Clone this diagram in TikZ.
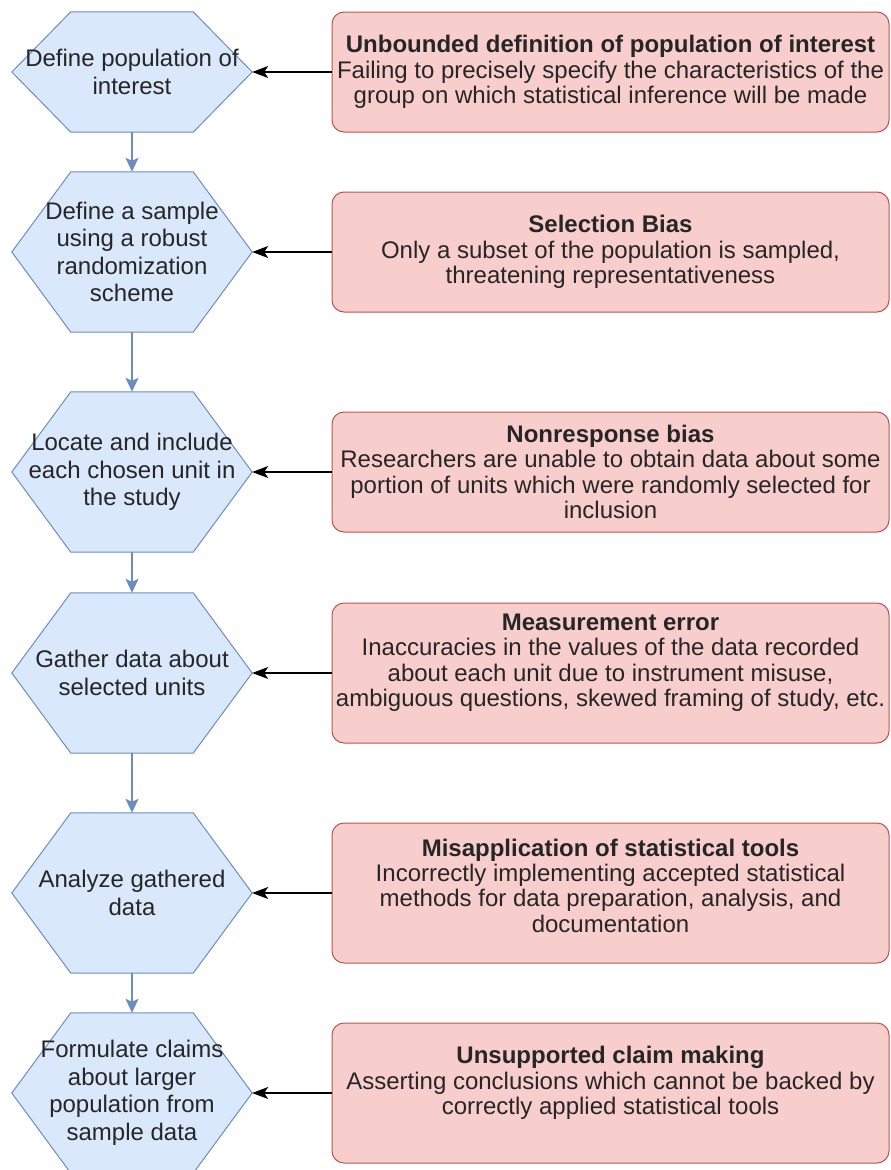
\documentclass[tikz,border=0pt]{standalone}
\usepackage{fontspec}
\setmainfont{Liberation Sans}
\usetikzlibrary{arrows.meta,backgrounds}

\definecolor{stagefill}{HTML}{DAE8FC}
\definecolor{stageline}{HTML}{6C8EBF}
\definecolor{riskfill}{HTML}{F8CECC}
\definecolor{riskline}{HTML}{B85450}

\tikzset{
    stage/.style={minimum width=240pt, minimum height=160pt, inner sep=0pt, align=center,
        font=\fontsize{24}{27.5}\selectfont, text=black!85},
    risk/.style={rectangle, rounded corners=12pt, draw=riskline, fill=riskfill, line width=1pt,
        minimum width=557pt, minimum height=120pt, inner sep=0pt, align=center,
        font=\fontsize{24}{25.3}\selectfont, text=black!85},
    flow/.style={stageline, line width=1.5pt, -{Stealth[length=14pt,width=13pt,inset=3pt]}},
    cause/.style={black, line width=1.2pt, -{Stealth[length=16pt,width=12pt,inset=4pt]}},
}

\begin{document}
\begin{tikzpicture}[x=1pt, y=-1pt]
        \useasboundingbox (0,0) rectangle (891,1170);

        \node[stage, minimum height=120pt] (s1) at (132, 72) {Define population of\\interest};
        \node[stage] (s2) at (132, 252) {Define a sample\\using a robust\\randomization\\scheme};
        \node[stage] (s3) at (132, 472) {Locate and include\\each chosen unit in\\the study};
        \node[stage] (s4) at (132, 673) {Gather data about\\selected units};
        \node[stage] (s5) at (132, 893) {Analyze gathered\\data};
        \node[stage] (s6) at (132, 1093) {Formulate claims\\about larger\\population from\\sample data};

        \node[risk] (r1) at (610.5, 72) {\textbf{Unbounded definition of population of interest}\\Failing to precisely specify the characteristics of the\\group on which statistical inference will be made};
        \node[risk] (r2) at (610.5, 252) {\textbf{Selection Bias}\\Only a subset of the population is sampled,\\threatening representativeness};
        \node[risk] (r3) at (610.5, 472) {\textbf{Nonresponse bias}\\Researchers are unable to obtain data about some\\portion of units which were randomly selected for\\inclusion};
        % text sits a little above the middle in the lower three boxes
        \node[risk, minimum height=140pt] (r4) at (610.5, 673) {\textbf{Measurement error}\\Inaccuracies in the values of the data recorded\\about each unit due to instrument misuse,\\ambiguous questions, skewed framing of study, etc.\\\mbox{}};
        \node[risk, minimum height=140pt] (r5) at (610.5, 893) {\textbf{Misapplication of statistical tools}\\Incorrectly implementing accepted statistical\\methods for data preparation, analysis, and\\documentation\\[-10pt]\mbox{}};
        \node[risk, minimum height=140pt] (r6) at (610.5, 1093) {\textbf{Unsupported claim making}\\Asserting conclusions which cannot be backed by\\correctly applied statistical tools\\\mbox{}};

        % hexagons behind the stage texts
        \begin{scope}[on background layer]
            \foreach \s in {s1,s2,s3,s4,s5,s6}
                \filldraw[draw=stageline, fill=stagefill, line width=1pt]
                    (\s.west) -- ([xshift=59pt]\s.north west) -- ([xshift=-59pt]\s.north east)
                    -- (\s.east) -- ([xshift=-59pt]\s.south east) -- ([xshift=59pt]\s.south west) -- cycle;
        \end{scope}

        \draw[flow] (s1) -- (s2);
        \draw[flow] (s2) -- (s3);
        \draw[flow] (s3) -- (s4);
        \draw[flow] (s4) -- (s5);
        \draw[flow] (s5) -- (s6);

        \foreach \i in {1,...,6}
            \draw[cause] (r\i.west) -- (s\i.east);

    \end{tikzpicture}
\end{document}
